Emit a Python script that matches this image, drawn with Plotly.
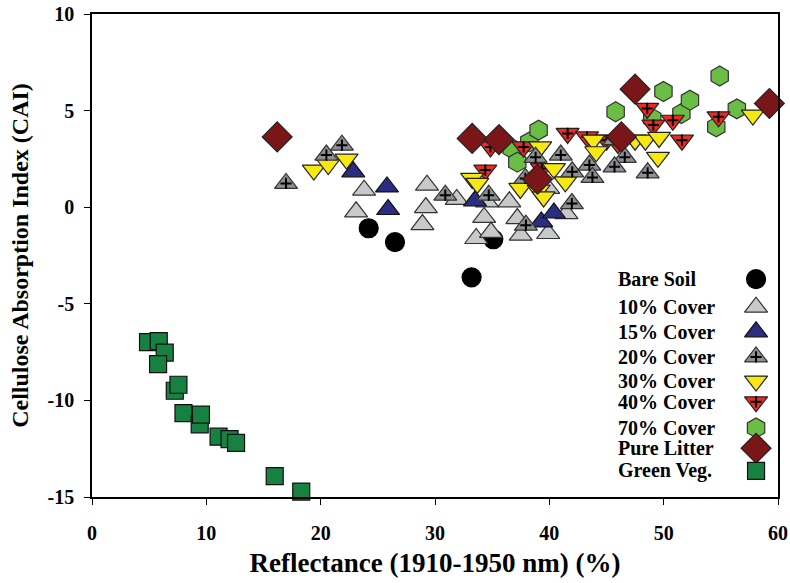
import plotly.graph_objects as go

# ---- data: reflectance (%) vs cellulose absorption index ----
bare_x = [24.2, 26.5, 33.2, 35.1]
bare_y = [-1.09, -1.81, -3.63, -1.66]

c10_x = [23.8, 23.1, 29.3, 29.2, 28.9, 31.9, 34.55, 34.3, 33.6, 34.9, 36.5, 37.2, 37.5, 39.9, 41.5, 39.9]
c10_y = [0.88, -0.24, 1.14, -0.02, -0.9, 0.4, 0.28, -0.53, -1.62, -1.3, 0.28, -0.59, -1.45, -1.36, -0.33, 0.97]

c15_x = [22.85, 25.8, 25.9, 33.5, 39.3, 40.4]
c15_y = [1.83, 1.05, -0.12, 0.33, -0.76, -0.3]

c20_x = [16.97, 20.5, 21.86, 30.9, 34.7, 37.9, 37.95, 38.8, 41.0, 41.97, 42.0, 43.5, 43.77, 45.7, 46.6, 45.7, 48.6]
c20_y = [1.23, 2.7, 3.21, 0.62, 0.62, 1.49, -0.93, 2.58, 2.7, 0.19, 1.83, 2.18, 1.54, 3.5, 2.58, 2.09, 1.78]

c30_x = [19.4, 20.66, 22.26, 33.25, 33.7, 37.46, 39.06, 39.5, 39.2, 40.4, 41.4, 43.85, 44.1, 47.5, 48.4, 49.6, 49.5, 57.8]
c30_y = [1.92, 2.21, 2.49, 1.49, 1.23, 0.97, 0.88, 0.53, 3.12, 2.0, 1.31, 3.47, 2.87, 3.47, 3.47, 3.61, 2.58, 4.77]

c40_x = [34.4, 34.85, 37.75, 39.35, 41.6, 43.3, 45.0, 46.0, 48.56, 49.1, 50.8, 51.6, 54.8]
c40_y = [1.92, 3.12, 3.12, 2.0, 3.82, 3.64, 3.47, 3.3, 5.11, 4.25, 4.5, 3.47, 4.68]

c70_x = [36.7, 37.2, 38.25, 39.06, 45.8, 49.0, 49.98, 51.55, 52.3, 54.6, 54.9, 56.4]
c70_y = [3.04, 2.33, 3.38, 3.99, 4.94, 4.6, 5.99, 4.85, 5.54, 4.16, 6.79, 5.09]

litter_x = [16.2, 33.25, 35.6, 38.97, 46.3, 47.5, 59.25]
litter_y = [3.64, 3.56, 3.5, 1.45, 3.64, 6.11, 5.37]

veg_x = [4.9, 5.84, 6.36, 5.78, 7.24, 7.56, 8.0, 9.42, 9.53, 11.07, 12.03, 12.6, 15.98, 18.3]
veg_y = [-6.98, -6.93, -7.53, -8.12, -9.5, -9.19, -10.66, -11.24, -10.74, -11.88, -12.0, -12.2, -13.92, -14.72]

x_ticks = [0, 10, 20, 30, 40, 50, 60]
y_ticks = [-15, -10, -5, 0, 5, 10]

legend_labels = ["Bare Soil", "10% Cover", "15% Cover", "20% Cover", "30% Cover",
                 "40% Cover", "70% Cover", "Pure Litter", "Green Veg."]
legend_rows = [0.451, 0.393, 0.342, 0.290, 0.240, 0.197, 0.143, 0.101, 0.054]

# ---- marker styles per group ----
styles = {
    "Bare Soil":   dict(symbol="circle", color="#000000", size=19, line="#000000"),
    "10% Cover":   dict(symbol="triangle-up", color="#c8c9cb", size=20, line="#333333"),
    "15% Cover":   dict(symbol="triangle-up", color="#2b2d82", size=20, line="#111111"),
    "20% Cover":   dict(symbol="triangle-up", color="#8e8f91", size=20, line="#333333"),
    "30% Cover":   dict(symbol="triangle-down", color="#f7e812", size=20, line="#222222"),
    "40% Cover":   dict(symbol="triangle-down", color="#ec2a24", size=20, line="#222222"),
    "70% Cover":   dict(symbol="hexagon", color="#6abd45", size=20, line="#333333"),
    "Pure Litter": dict(symbol="diamond", color="#7a1618", size=23, line="#222222"),
    "Green Veg.":  dict(symbol="square", color="#168140", size=17, line="#111111"),
}
crossed = {"20% Cover", "40% Cover"}

series = [
    ("Green Veg.", veg_x, veg_y),
    ("Bare Soil", bare_x, bare_y),
    ("10% Cover", c10_x, c10_y),
    ("15% Cover", c15_x, c15_y),
    ("70% Cover", c70_x, c70_y),
    ("40% Cover", c40_x, c40_y),
    ("30% Cover", c30_x, c30_y),
    ("20% Cover", c20_x, c20_y),
    ("Pure Litter", litter_x, litter_y),
]

fig = go.Figure()


def add_points(name, xs, ys, xaxis="x", yaxis="y"):
    st = styles[name]
    fig.add_trace(go.Scatter(
        x=xs, y=ys, mode="markers", name=name, showlegend=False,
        xaxis=xaxis, yaxis=yaxis, cliponaxis=False,
        marker=dict(symbol=st["symbol"], size=st["size"], color=st["color"],
                    line=dict(color=st["line"], width=1.2)),
    ))
    if name in crossed:
        fig.add_trace(go.Scatter(
            x=xs, y=ys, mode="markers", showlegend=False, hoverinfo="skip",
            xaxis=xaxis, yaxis=yaxis, cliponaxis=False,
            marker=dict(symbol="cross-thin", size=8,
                        line=dict(color="#000000", width=2)),
        ))


for name, xs, ys in series:
    add_points(name, xs, ys)

# ---- legend block: labels on the left, symbols on the right ----
for label, row in zip(legend_labels, legend_rows):
    add_points(label, [0.968], [row], xaxis="x2", yaxis="y2")
    fig.add_annotation(
        x=0.764, y=row, xref="x2", yref="y2", text=f"<b>{label}</b>", showarrow=False,
        xanchor="left", yanchor="middle",
        font=dict(family="Liberation Serif", size=20, color="#000000"),
    )

axis_font = dict(family="Liberation Serif", size=20, color="#000000")

fig.update_layout(
    width=790, height=583,
    margin=dict(l=92, r=12, t=14, b=86),
    paper_bgcolor="white", plot_bgcolor="white",
    font=dict(family="Liberation Serif", color="#000000"),
    xaxis=dict(
        range=[0, 60], tickvals=x_ticks, ticktext=[f"<b>{v}</b>" for v in x_ticks],
        showgrid=False, zeroline=False, showline=True, mirror=True, automargin=False,
        linecolor="#000000", linewidth=1.5,
        ticks="outside", ticklen=6, tickwidth=1.2, tickcolor="#000000",
        tickfont=axis_font, ticklabelstandoff=11,
        title=dict(text="<b>Reflectance (1910-1950 nm) (%)</b>",
                   font=dict(family="Liberation Serif", size=27, color="#000000"), standoff=10),
    ),
    yaxis=dict(
        range=[-15, 10], tickvals=y_ticks, ticktext=[f"<b>{v}</b>" for v in y_ticks],
        showgrid=False, zeroline=False, showline=True, mirror=True, automargin=False,
        linecolor="#000000", linewidth=1.5,
        ticks="outside", ticklen=6, tickwidth=1.2, tickcolor="#000000",
        tickfont=axis_font, ticklabelstandoff=6,
        title=dict(text="<b>Cellulose Absorption Index (CAI)</b>",
                   font=dict(family="Liberation Serif", size=24, color="#000000"), standoff=12),
    ),
    xaxis2=dict(range=[0, 1], overlaying="x", visible=False, anchor="y2", automargin=False),
    yaxis2=dict(range=[0, 1], overlaying="y", visible=False, anchor="x2", automargin=False),
    showlegend=False,
)

fig.write_html("out.html")
